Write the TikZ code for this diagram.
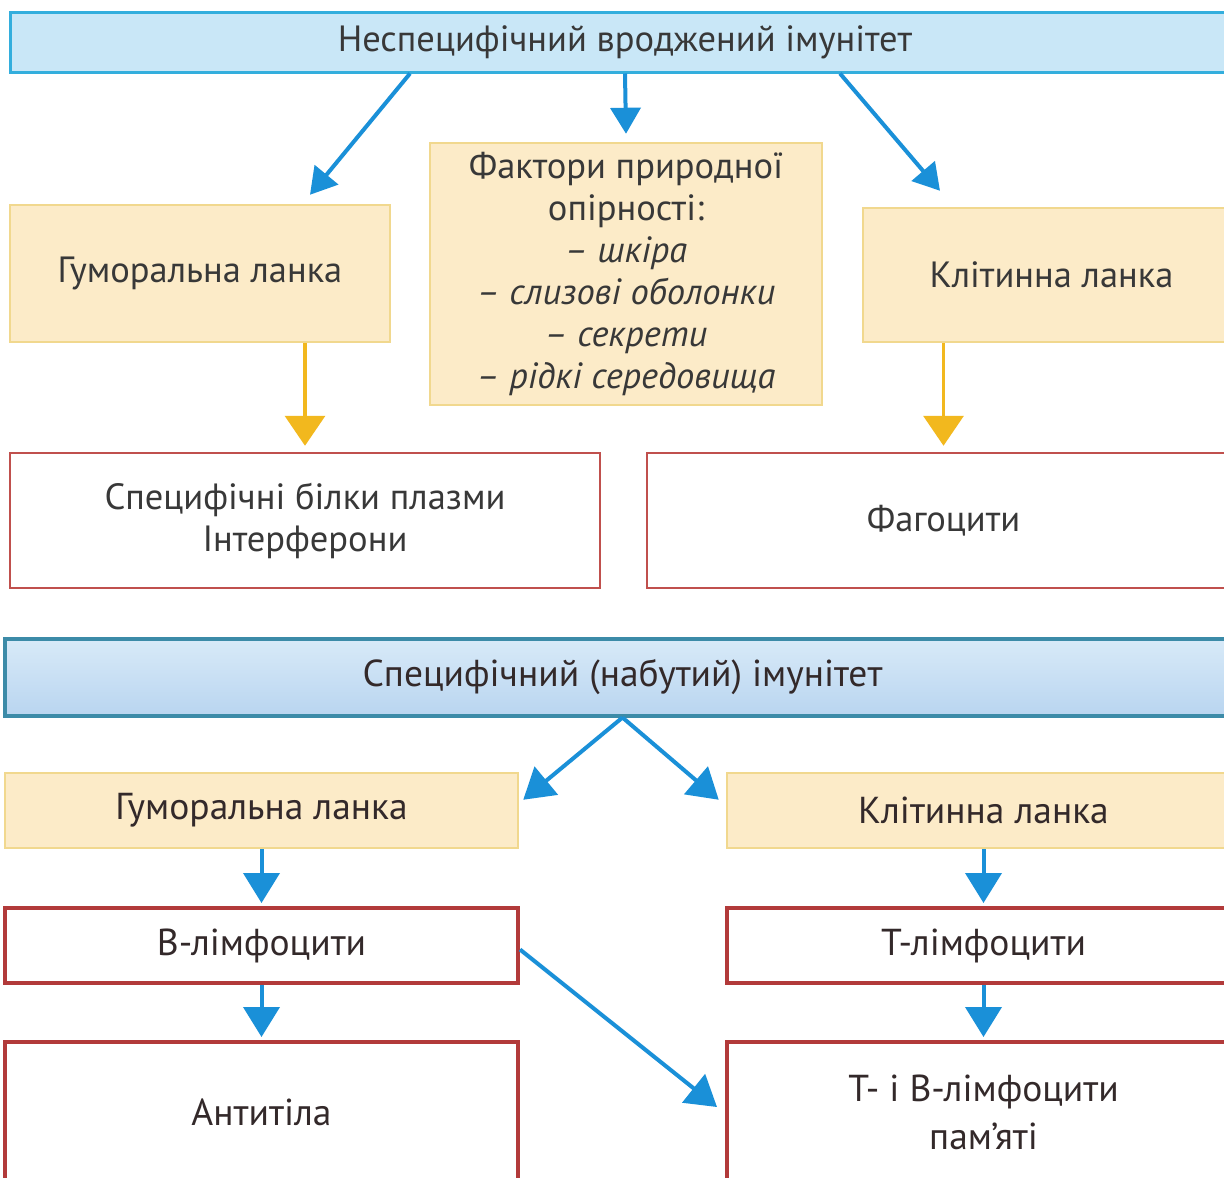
\documentclass[tikz,border=0pt]{standalone}
\usepackage{fontspec}
\setmainfont{PT Sans}
\usetikzlibrary{arrows.meta,calc}
\definecolor{barfill}{HTML}{C9E7F7}
\definecolor{barline}{HTML}{33AEDD}
\definecolor{bartop}{HTML}{D8EAF8}
\definecolor{barbot}{HTML}{B9D5F0}
\definecolor{bartwoline}{HTML}{3C8BA8}
\definecolor{beige}{HTML}{FCEBC8}
\definecolor{beigeline}{HTML}{F1D88E}
\definecolor{redline}{HTML}{C0504D}
\definecolor{redlinedark}{HTML}{B23A3A}
\definecolor{arrblue}{HTML}{1A90D8}
\definecolor{arryel}{HTML}{F2B81E}
\definecolor{txt}{HTML}{383838}
\definecolor{txttwo}{HTML}{33292A}
\begin{document}
\begin{tikzpicture}[x=1pt,y=-1pt,
  every node/.style={text=txt,font=\fontsize{36.5}{42}\selectfont,align=center,inner sep=0pt,rectangle},
  lower/.style={text=txttwo,font=\fontsize{37.5}{48}\selectfont},
  bar/.style={draw=barline,fill=barfill,line width=3pt},
  bartwo/.style={draw=bartwoline,top color=bartop,bottom color=barbot,line width=4pt},
  beigebox/.style={draw=beigeline,fill=beige,line width=2.5pt},
  redbox/.style={draw=redline,fill=white,line width=2.5pt},
  redboxtwo/.style={draw=redlinedark,fill=white,line width=4pt},
  barrow/.style={draw=arrblue,line width=4pt,-{Triangle[width=30pt,length=26pt]}},
  barrowtwo/.style={draw=arrblue,line width=4pt,-{Triangle[width=36pt,length=30pt]}},
  yarrow/.style={draw=arryel,line width=3.5pt,-{Triangle[width=40pt,length=30pt]}}
]
\fill[white] (0,0) rectangle (1224,1178);
\useasboundingbox (0,0) rectangle (1224,1178);

% ---------- upper scheme ----------
\node[bar,minimum width=1230pt,minimum height=60pt] (top) at (625,42) {Неспецифічний вроджений імунітет};
\node[beigebox,minimum width=380pt,minimum height=137pt] (hum) at (200,273.5) {Гуморальна ланка};
\node[beigebox,minimum width=392pt,minimum height=262pt] (fac) at (626,274)
  {Фактори природної\\опірності:\\\textit{– шкіра}\\\textit{– слизові оболонки}\\\textit{– секрети}\\\textit{– рідкі середовища}};
\node[beigebox,minimum width=377pt,minimum height=134pt] (cell) at (1051.5,275) {Клітинна ланка};
\node[redbox,minimum width=590pt,minimum height=135pt] (prot) at (305,520.5)
  {Специфічні білки плазми\\Інтерферони};
\node[redbox,minimum width=593pt,minimum height=135pt] (fag) at (943.5,520.5) {Фагоцити};

\draw[barrow] ([xshift=-215pt]top.south) -- ([xshift=110pt,yshift=9pt]hum.north);
\draw[barrow] (top.south) -- ([yshift=8pt]fac.north);
\draw[barrow] ([xshift=215pt]top.south) -- ([xshift=-111.5pt,yshift=16pt]cell.north);
\draw[yarrow] (prot.north |- hum.south) -- ([yshift=6pt]prot.north);
\draw[yarrow] (fag.north |- cell.south) -- ([yshift=6pt]fag.north);

% ---------- lower scheme ----------
\node[bartwo,lower,minimum width=1235pt,minimum height=77pt] (toptwo) at (622.5,677) {Специфічний (набутий) імунітет};
\node[beigebox,lower,minimum width=513pt,minimum height=75pt] (humtwo) at (261.5,810.5) {Гуморальна ланка};
\node[beigebox,lower,minimum width=513pt,minimum height=75pt] (celltwo) at (983.5,810.5) {Клітинна ланка};
\node[redboxtwo,lower,minimum width=513pt,minimum height=75pt] (blym) at (261.5,945.5) {В-лімфоцити};
\node[redboxtwo,lower,minimum width=513pt,minimum height=75pt] (tlym) at (983.5,945.5) {Т-лімфоцити};
\node[redboxtwo,lower,minimum width=513pt,minimum height=140pt] (anti) at (261.5,1112) {Антитіла};
\node[redboxtwo,lower,minimum width=513pt,minimum height=140pt] (mem) at (983.5,1112) {Т- і В-лімфоцити\\пам’яті};

\draw[barrowtwo] (toptwo.south) -- ([xshift=4pt,yshift=-28pt]humtwo.north east);
\draw[barrowtwo] (toptwo.south) -- ([xshift=-7pt,yshift=-28pt]celltwo.north west);
\draw[barrowtwo] (humtwo.south) -- ([yshift=3pt]blym.north);
\draw[barrowtwo] (blym.south) -- ([yshift=3pt]anti.north);
\draw[barrowtwo] (celltwo.south) -- ([yshift=3pt]tlym.north);
\draw[barrowtwo] (tlym.south) -- ([yshift=3pt]mem.north);
\draw[barrowtwo] ([yshift=-4pt]blym.east) -- ([xshift=-8pt,yshift=5pt]mem.west);
\end{tikzpicture}
\end{document}
